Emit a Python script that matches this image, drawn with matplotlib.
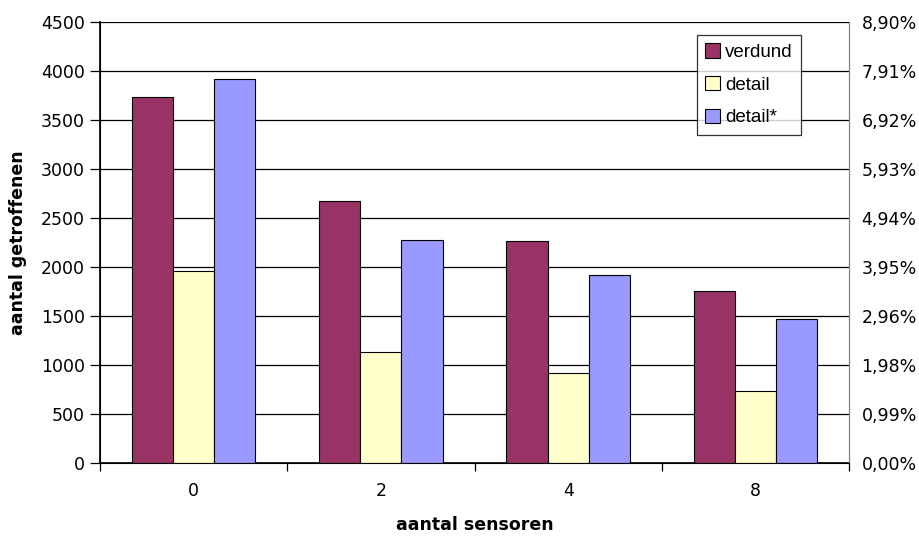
import matplotlib
matplotlib.use("Agg")
import matplotlib.pyplot as plt
import numpy as np

categories = ["0", "2", "4", "8"]
verdund = [3730, 2670, 2270, 1760]
detail = [1955, 1130, 915, 730]
detail_star = [3915, 2280, 1915, 1470]
series_names = ["verdund", "detail", "detail*"]
left_ticks = [0, 500, 1000, 1500, 2000, 2500, 3000, 3500, 4000, 4500]
right_labels = ["0,00%", "0,99%", "1,98%", "2,96%", "3,95%",
                "4,94%", "5,93%", "6,92%", "7,91%", "8,90%"]

colors = ["#993366", "#FFFFCC", "#9999FF"]
narrow = ["DejaVu Sans Condensed", "DejaVu Sans"]
plt.rcParams["font.family"] = ["Liberation Sans", "DejaVu Sans"]

fig = plt.figure(figsize=(9.19, 5.37), dpi=100)
ax = fig.add_axes([100 / 919, 74 / 537, 749 / 919, 441 / 537])

x = np.arange(len(categories))
w = 0.22
for i, (vals, name) in enumerate(zip([verdund, detail, detail_star], series_names)):
    ax.bar(x + (i - 1) * w, vals, w, color=colors[i], edgecolor="black",
           linewidth=0.8, label=name, zorder=3)

ax.set_xlim(-0.5, len(categories) - 0.5)
ax.set_ylim(0, 4500)
ax.set_yticks(left_ticks)
ax.set_yticklabels([str(t) for t in left_ticks], family=narrow, fontsize=12.5)
ax.yaxis.grid(True, color="black", linewidth=0.9, zorder=0)

# category labels sit between boundary ticks, like Excel
ax.set_xticks(x)
ax.set_xticklabels(categories, family=narrow, fontsize=12.5)
ax.tick_params(axis="x", length=0, pad=14)
ax.set_xticks(np.arange(len(categories) + 1) - 0.5, minor=True)
ax.tick_params(axis="x", which="minor", length=6, width=0.9, direction="out")
ax.tick_params(axis="y", length=7, width=0.9, direction="out", pad=4)

ax.spines["top"].set_visible(False)
ax.spines["right"].set_color("#808080")
ax.spines["left"].set_linewidth(1.2)
ax.spines["bottom"].set_linewidth(1.2)

ax2 = ax.twinx()
ax2.set_ylim(ax.get_ylim())
ax2.set_yticks(left_ticks)
ax2.set_yticklabels(right_labels, family=narrow, fontsize=12.5)
ax2.tick_params(axis="y", length=0, pad=9)
ax2.spines["right"].set_color("#808080")
ax2.spines["top"].set_visible(False)

ax.set_ylabel("aantal getroffenen", family=narrow, fontsize=12.5,
              fontweight="bold", labelpad=10)
ax.set_xlabel("aantal sensoren", family=narrow, fontsize=12.5,
              fontweight="bold", labelpad=11)

leg = ax.legend(loc="upper left", bbox_to_anchor=(597 / 749, 1 - 13 / 441),
                frameon=True, fancybox=False, edgecolor="black",
                handlelength=0.8, handleheight=0.8, handletextpad=0.25,
                labelspacing=0.8, borderpad=0.45, borderaxespad=0.0,
                fontsize=13.5)
leg.get_frame().set_linewidth(0.9)
leg.set_zorder(5)

fig.savefig("out.png", dpi=100)
